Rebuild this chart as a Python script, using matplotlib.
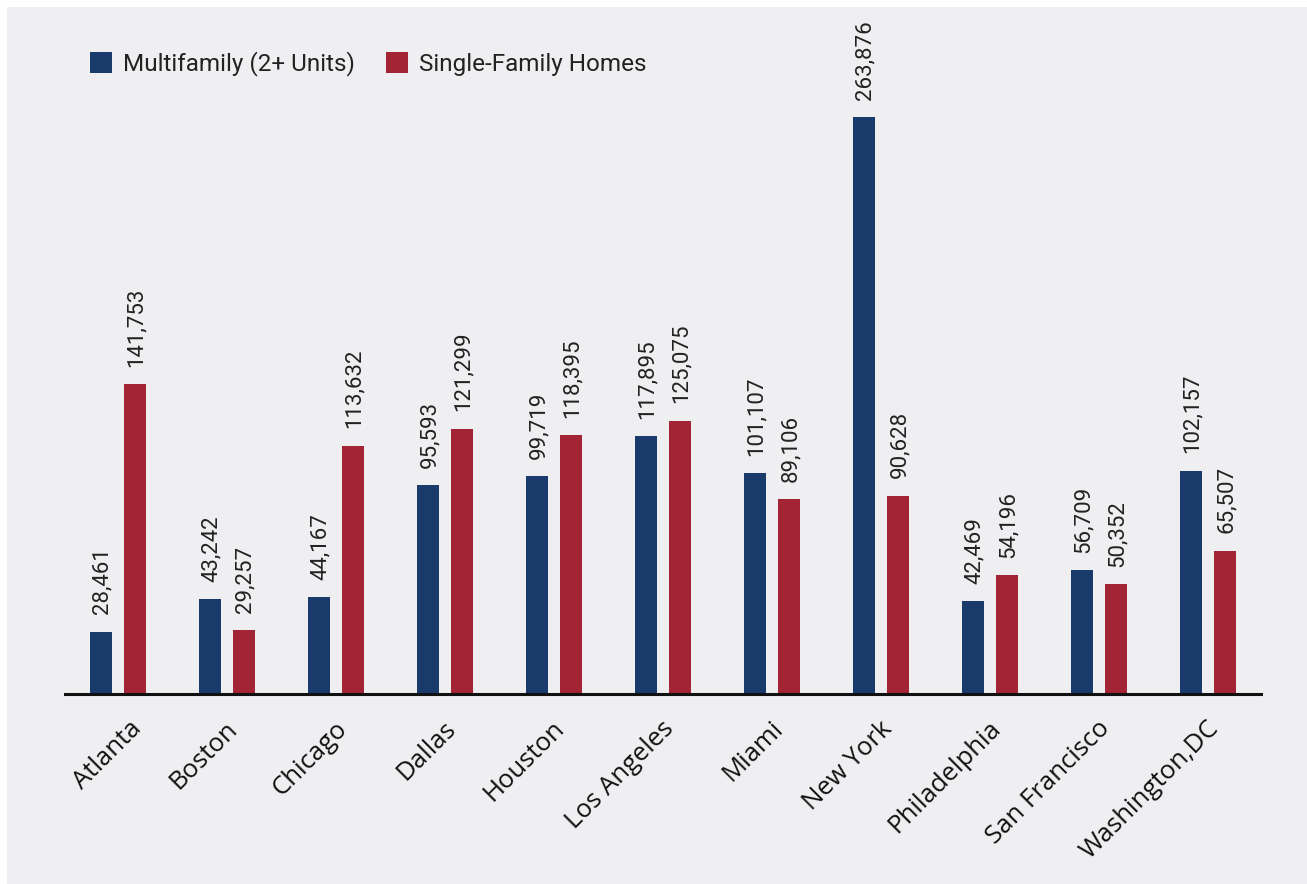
import matplotlib.pyplot as plt
import matplotlib.transforms as mtransforms
from matplotlib.patches import Rectangle
import numpy as np

cities = ["Atlanta", "Boston", "Chicago", "Dallas", "Houston", "Los Angeles",
          "Miami", "New York", "Philadelphia", "San Francisco", "Washington,DC"]
multifamily = [28461, 43242, 44167, 95593, 99719, 117895,
               101107, 263876, 42469, 56709, 102157]
single_family = [141753, 29257, 113632, 121299, 118395, 125075,
                 89106, 90628, 54196, 50352, 65507]

blue = "#183B6C"
red = "#A32434"
bg = "#EFEFF1"

W, H = 1307, 884
fig = plt.figure(figsize=(W / 100, H / 100), dpi=100)
fig.patch.set_facecolor("white")
# gray panel behind everything
fig.patches.append(Rectangle((7 / W, 0), 1 - 7 / W, 1 - 7 / H,
                             transform=fig.transFigure, facecolor=bg,
                             edgecolor="none", zorder=-10))

ax = fig.add_axes([65 / W, 1 - 694 / H, (1261 - 65) / W, (694 - 20) / H])
ax.set_facecolor("none")
ax.set_zorder(1)

x = np.arange(len(cities))
bw = 0.202
off = 0.156
b1 = ax.bar(x - off, multifamily, bw, color=blue, label="Multifamily (2+ Units)")
b2 = ax.bar(x + off, single_family, bw, color=red, label="Single-Family Homes")

for bars, vals in ((b1, multifamily), (b2, single_family)):
    for rect, v in zip(bars, vals):
        ax.annotate(f"{v:,}", (rect.get_x() + rect.get_width() / 2, v),
                    xytext=(1, 12.5), textcoords="offset points",
                    rotation=90, ha="center", va="bottom",
                    fontsize=16, family="Roboto", color="#222222")

ax.set_xlim(-0.486, 10.486)
ax.set_ylim(0, 308236)

for s in ("top", "right", "left"):
    ax.spines[s].set_visible(False)
ax.spines["bottom"].set_linewidth(2.2)
ax.spines["bottom"].set_color("#111111")
ax.set_yticks([])

ax.set_xticks(x)
ax.set_xticklabels(cities, rotation=45, ha="right", va="center",
                   rotation_mode="anchor", fontsize=18.5, family="Open Sans",
                   color="#111111")
ax.tick_params(axis="x", length=0, pad=0)
# Atlanta sits a little further right than the rest in the original
for i, lab in enumerate(ax.get_xticklabels()):
    dx = 20 if i == 0 else 7
    shift = mtransforms.ScaledTranslation(dx / 100, -31 / 100, fig.dpi_scale_trans)
    lab.set_transform(lab.get_transform() + shift)

leg = fig.legend(loc="center left", bbox_to_anchor=(90 / W, 1 - 64 / H),
                 ncol=2, frameon=False, borderpad=0, borderaxespad=0,
                 handlelength=0.92, handleheight=0.92, handletextpad=0.42,
                 columnspacing=1.3, prop={"family": "Roboto", "size": 17.5})
for t in leg.get_texts():
    t.set_color("#222222")

fig.savefig("out.png", dpi=100, facecolor=fig.get_facecolor())
